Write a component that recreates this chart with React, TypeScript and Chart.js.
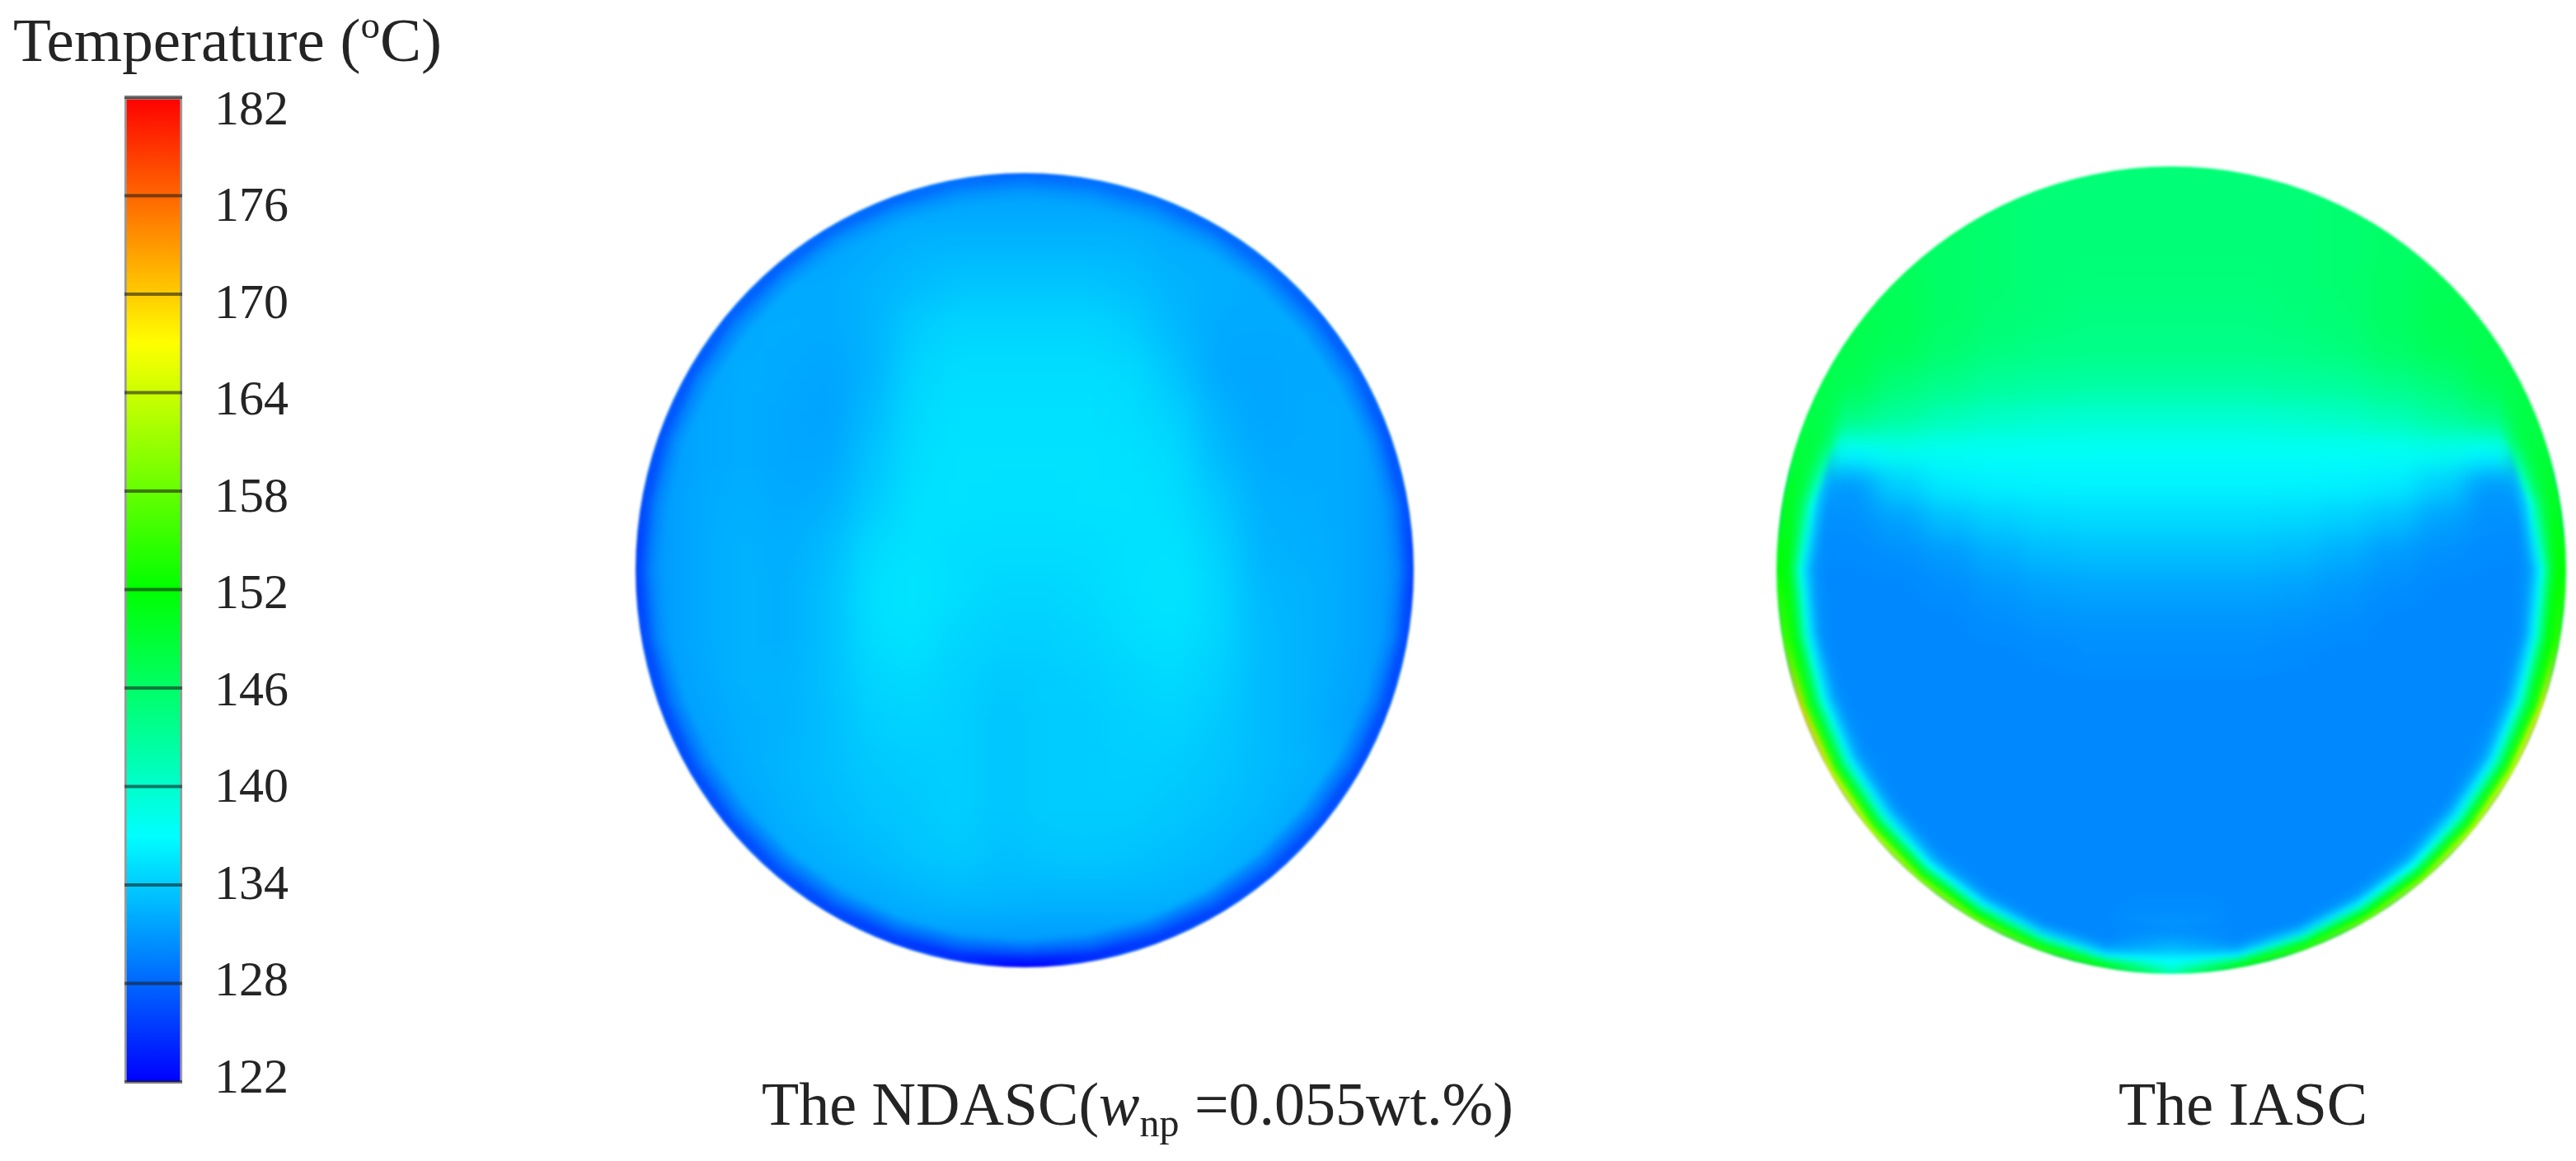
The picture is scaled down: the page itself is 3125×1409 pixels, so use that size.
import React, { useEffect, useRef } from "react";
import { Chart, registerables } from "chart.js";

Chart.register(...registerables);

// ---------- data ----------
const tickValues = [122, 128, 134, 140, 146, 152, 158, 164, 170, 176, 182];
const scaleStopValues = [122, 137, 152, 167, 182];
const scaleStopColors = [[0, 0, 255], [0, 255, 255], [0, 255, 0], [255, 255, 0], [255, 0, 0]];

// NDASC disk, interior temperatures, top row first, left to right
const ndascGrid = [
  [131,131,131,131,131,131,131.3,131.5,131.5,131.5,131.5,131.3,131,131,131,131,131,131],
  [131,131,131,131,131.5,132,132.5,132.5,132.5,132.5,132.5,132.5,132,132,131.5,131,131,131],
  [131,131,131.5,132,132,132.5,133,133.5,133.5,133.5,133.5,133.2,132.6,132.3,132,131.8,131,131],
  [131,131,132,132.2,132,132.5,134,134.5,134.5,134.5,134.5,134,132.8,132,132,132,131.5,131],
  [131,131.5,132.2,132,131.7,132.5,134.5,135,135,135,135,134.8,133.5,131.9,131.7,132,131.8,131],
  [131,131.8,132.2,131.8,131.5,133,134.8,135.2,135.2,135.2,135.2,135,134.3,132.5,131.7,132,132,131],
  [131,131.8,132.2,131.8,131.8,133.5,135,135.3,135.3,135.3,135.3,135.2,134.8,133,132,132,132,131],
  [131,132,132.3,132,132.3,134,135.2,135.3,135.2,135.2,135.3,135.3,135,133.8,132.3,132.2,132,131],
  [131,132,132.5,132.2,133,134.8,135.3,135,135,135,135,135.2,135.3,134.3,132.5,132.3,132,131],
  [131,132,132.5,132.3,133.3,135.2,135.5,135,134.6,134.6,134.8,135.2,135.5,134.6,132.8,132.5,132,131],
  [131,132,132.5,132.3,133.3,135,135.3,134.6,134.3,134.3,134.5,135,135.2,134.5,133,132.5,132,131],
  [131,131.8,132.5,132.5,133.3,134.6,134.8,134.3,133.8,134,134.2,134.6,134.8,134.2,133,132.5,131.8,131],
  [131,131.5,132.3,132.5,133.2,134.2,134.4,134.2,133.6,134,134,134.3,134.4,133.8,133,132.5,131.6,131],
  [131,131,132.2,132.7,133.2,133.8,134,134.2,133.6,134,134,134.2,134,133.6,133,132.6,131.8,131],
  [131,131,131.5,132.5,133,133.5,133.8,134.2,133.6,134,134,134,133.7,133.3,132.8,132,131,131],
  [131,131,131,132,132.5,133,133.5,133.8,133.3,133.6,133.7,133.5,133.2,132.8,132.2,131.5,131,131],
  [131,131,131,131,131.5,132,132.5,132.8,132.7,132.6,132.6,132.6,132.5,132,131.5,131,131,131],
  [130.5,130.5,131,131,131,131,131,131,131,131,131,131,131,131,131,130.5,130.5,130.5],
];

// NDASC rim, one list per ring (outer first), every 10 degrees clockwise from the top
const ndascRimRadii = [0.995, 0.98, 0.965, 0.95];
const ndascRim = [
  [128,128,128,127.5,127.5,127,127,126.5,126,125.5,125.5,125.5,125.5,125.5,125.5,125,124.5,123.5,122,123.5,124.5,125,125.5,125.5,125.5,125.5,125.5,125.5,125.5,126,126.5,127,127,127.5,127.5,128],
  [129,129,129,128.5,128.5,128,128,127.5,127.5,127,127,127,127,127,127,126.5,126,125,123.5,125,126,126.5,127,127,127,127,127,127,127,127.5,127.5,128,128,128.5,128.5,129],
  [130,130,130,130,129.5,129.5,129.5,129,129,128.8,128.8,128.5,128.5,128.5,128.5,128,127.5,127,126,127,127.5,128,128.5,128.5,128.5,128.5,128.8,128.8,129,129,129.5,129.5,129.5,130,130,130],
  [131,131,131,131,130.8,130.5,130.5,130.5,130.3,130.3,130.3,130,130,130,130,129.8,129.5,129,128.5,129,129.5,129.8,130,130,130,130,130.3,130.3,130.3,130.5,130.5,130.5,130.8,131,131,131],
];

// IASC disk, interior temperatures, top row first, left to right
const iascGrid = [
  [146,146,146,146,145.5,145,145,145,145,145,145,145.5,146,146,146,146],
  [146,146,146,146,145.5,145,145,145,145,145,145,145.5,146,146,146,146],
  [147,147,146.5,146,145.5,145,145,145,145,145,145,145.5,146,146.5,147,147],
  [147,147,146.8,146,145.5,145,144.8,144.8,144.8,144.8,145,145.5,146.2,147,147,147],
  [147.5,147.5,147,146,145.3,144.8,144.5,144.5,144.5,144.5,144.8,145.3,146.3,147.2,147.5,147.5],
  [148,147.5,146.7,145.5,144.6,144.2,144,144,144,144,144.2,144.7,145.8,146.8,147.5,148],
  [148,147,145,144,143,142.7,142.5,142.5,142.5,142.5,142.7,143,144,145,147,148],
  [148,144.5,142.8,141.3,140.5,140,139.7,139.7,139.7,139.7,140,140.5,141.3,142.8,144.5,148],
  [147,137,137.8,137.6,137.5,137.5,137.5,137.5,137.5,137.5,137.5,137.5,137.6,137.8,137,147],
  [132,131,134.2,135.8,136.2,136.3,136.3,136.3,136.3,136.3,136.3,136.2,135.8,134.2,131,132],
  [130.5,130.5,131.5,133.3,134.2,134.7,134.8,134.8,134.8,134.8,134.7,134.2,133.3,131.5,130.5,130.5],
  [130,130.2,130.5,131.2,132.3,133,133.3,133.3,133.3,133.3,133,132.3,131.2,130.5,130.2,130],
  [130,130,130,130.4,131,131.6,131.8,131.8,131.8,131.8,131.6,131,130.4,130,130,130],
  [130,130,130,130,130.4,130.7,130.8,130.8,130.8,130.8,130.7,130.4,130,130,130,130],
  [130,130,130,130,130,130.2,130.4,130.4,130.4,130.4,130.2,130,130,130,130,130],
  [130,130,130,130,130,130,130,130,130,130,130,130,130,130,130,130],
  [130,130,130,130,130,130,130,130,130,130,130,130,130,130,130,130],
  [130,130,130,130,130,130,130,130,130,130,130,130,130,130,130,130],
  [130,130,130,130,130,130,130,130,130,130,130,130,130,130,130,130],
  [130,130,130,130,130,130,130,130,130,130,130,130,130,130,130,130],
  [130,130,130,130,130,130,130,130,130,130,130,130,130,130,130,130],
  [130,130,130,130,130,130,130,130,130,130,130,130,130,130,130,130],
  [130,130,130,130,130,130,130,130.5,130.5,130,130,130,130,130,130,130],
  [130,130,130,130,130,130,131,133,133,131,130,130,130,130,130,130],
];

// IASC rim, one list per ring (outer first), every 10 degrees clockwise from the top
const iascRimRadii = [0.995, 0.98, 0.965, 0.95, 0.935, 0.92, 0.905, 0.89];
const n = null;
const iascRim = [
  [n,n,n,n,n,n,n,148,150,151,155,168,166,165,162,160,155,152,142,152,155,160,162,165,168,170,156,151,150,148,n,n,n,n,n,n],
  [n,n,n,n,n,n,n,148,150,152,153,154,155,154,153,152,150,146,139,146,150,152,153,154,155,156,154,152,150,148,n,n,n,n,n,n],
  [n,n,n,n,n,n,n,148,149,150,151,150,149,148,146,144,141,136,137,136,141,144,146,148,149,150,151,150,149,148,n,n,n,n,n,n],
  [n,n,n,n,n,n,n,148,147,145,146,145,142,140,137,136,134,132,135,132,134,136,137,140,142,145,146,145,147,148,n,n,n,n,n,n],
  [n,n,n,n,n,n,n,147,143,138,139,138,136,135,133,132,131,130.5,133,130.5,131,132,133,135,136,138,139,138,143,147,n,n,n,n,n,n],
  [n,n,n,n,n,n,n,145,138,134,134.5,134,132.5,132,131,130.5,130,130,132,130,130,130.5,131,132,132.5,134,134.5,134,138,145,n,n,n,n,n,n],
  [n,n,n,n,n,n,n,n,133,131.5,131.5,131.5,131,130.5,130.3,130,130,130,131,130,130,130,130.3,130.5,131,131.5,131.5,131.5,133,n,n,n,n,n,n,n],
  [n,n,n,n,n,n,n,n,n,130.5,130.3,130.3,130.3,130,130,130,130,130,130.5,130,130,130,130,130,130.3,130.3,130.3,130.5,n,n,n,n,n,n,n,n],
];

// ---------- layout of the figure ----------
const W = 3125;
const H = 1409;
const AREA = { left: 140, right: W, top: 118, bottom: 1313 };
const BAR_CENTER = 186;
const LABEL_LEFT = 260;
const DISK_A = { cx: 1243, cy: 692, rx: 472, ry: 482 };
const DISK_B = { cx: 2634, cy: 692, rx: 479, ry: 490 };
const FONT = '"Liberation Serif", "Times New Roman", serif';
const INK = "#242424";

function rgbFor(t: number): number[] {
  const v = Math.min(182, Math.max(122, t));
  for (let i = 0; i < scaleStopValues.length - 1; i++) {
    if (v <= scaleStopValues[i + 1]) {
      const f = (v - scaleStopValues[i]) / (scaleStopValues[i + 1] - scaleStopValues[i]);
      const a = scaleStopColors[i];
      const b = scaleStopColors[i + 1];
      return a.map((c, k) => Math.round(c + (b[k] - c) * f));
    }
  }
  return scaleStopColors[scaleStopColors.length - 1];
}
const css = (rgb: number[], alpha = 1) => `rgba(${rgb[0]},${rgb[1]},${rgb[2]},${alpha})`;

function diskScales(d: any, xId: string, yId: string) {
  const xMin = -1 - (d.cx - d.rx - AREA.left) / d.rx;
  const xMax = xMin + (AREA.right - AREA.left) / d.rx;
  const yMin = (d.cy - AREA.bottom) / d.ry;
  const yMax = (d.cy - AREA.top) / d.ry;
  return {
    [xId]: { type: "linear", axis: "x", display: false, min: xMin, max: xMax },
    [yId]: { type: "linear", axis: "y", display: false, min: yMin, max: yMax },
  };
}

function cellDataset(grid: number[][], d: any, xId: string, yId: string, order: number, blur: number) {
  const rows = grid.length;
  const cols = grid[0].length;
  const points: any[] = [];
  const colors: string[] = [];
  grid.forEach((row, i) =>
    row.forEach((v, j) => {
      points.push({ x: -1 + (2 * j + 1) / cols, y: 1 - (2 * i + 1) / rows });
      colors.push(css(rgbFor(v)));
    })
  );
  return {
    type: "scatter",
    data: points,
    xAxisID: xId,
    yAxisID: yId,
    order,
    clip: false,
    pointStyle: "line",
    pointRadius: d.rx / cols + 1,
    pointBorderWidth: (2 * d.ry) / rows + 2,
    pointBorderColor: colors,
    fx: { disk: d, blur },
  };
}

function ringDataset(
  canvas: HTMLCanvasElement,
  temps: (number | null)[],
  radius: number,
  xId: string,
  yId: string,
  order: number,
  width: number,
  fx: any
) {
  const count = temps.length;
  const points: any[] = [];
  for (let k = 0; k <= count; k++) {
    const a = (k * 2 * Math.PI) / count;
    points.push({ x: radius * Math.sin(a), y: radius * Math.cos(a) });
  }
  return {
    type: "scatter",
    showLine: true,
    data: points,
    xAxisID: xId,
    yAxisID: yId,
    order,
    clip: false,
    pointRadius: 0,
    borderWidth: width,
    borderColor: "rgba(0,0,0,0)",
    borderCapStyle: "round",
    segment: {
      borderColor: (c: any) => {
        const i0 = c.p0DataIndex;
        const i1 = c.p1DataIndex;
        const t0 = temps[i0 % count];
        const t1 = temps[i1 % count];
        if (t0 == null && t1 == null) return "rgba(0,0,0,0)";
        const rgb0 = rgbFor((t0 ?? t1) as number);
        const rgb1 = rgbFor((t1 ?? t0) as number);
        const chart: any = Chart.getChart(canvas);
        const sx = chart && chart.scales[xId];
        const sy = chart && chart.scales[yId];
        if (!sx || !sy) return css(rgb0);
        const x0 = sx.getPixelForValue(points[i0].x);
        const y0 = sy.getPixelForValue(points[i0].y);
        const x1 = sx.getPixelForValue(points[i1].x);
        const y1 = sy.getPixelForValue(points[i1].y);
        if (![x0, y0, x1, y1].every(Number.isFinite)) return css(rgb0);
        const grad = canvas.getContext("2d")!.createLinearGradient(x0, y0, x1, y1);
        grad.addColorStop(0, css(rgb0, t0 == null ? 0 : 1));
        grad.addColorStop(1, css(rgb1, t1 == null ? 0 : 1));
        return grad;
      },
    },
    fx,
  };
}

function blurRegion(chart: any, x: number, y: number, w: number, h: number, px: number) {
  const ctx = chart.ctx;
  ctx.save();
  ctx.beginPath();
  ctx.rect(x, y, w, h);
  ctx.clip();
  ctx.filter = `blur(${px}px)`;
  ctx.drawImage(chart.canvas, x, y, w, h, x, y, w, h);
  ctx.restore();
}

const diskEffects = {
  id: "diskEffects",
  afterDatasetDraw(chart: any, args: any) {
    const fx = chart.data.datasets[args.index].fx;
    if (!fx) return;
    const d = fx.disk;
    const bx = d.cx - d.rx;
    const by = d.cy - d.ry;
    const bw = 2 * d.rx;
    const bh = 2 * d.ry;
    blurRegion(chart, bx, by, bw, bh, fx.blur);
    if (fx.mask) {
      const m = 12;
      const ctx = chart.ctx;
      ctx.save();
      ctx.fillStyle = "#ffffff";
      ctx.beginPath();
      ctx.rect(bx - m, by - m, bw + 2 * m, bh + 2 * m);
      ctx.ellipse(d.cx, d.cy, d.rx, d.ry, 0, 0, Math.PI * 2);
      ctx.fill("evenodd");
      ctx.restore();
      blurRegion(chart, bx - m + 4, by - m + 4, bw + 2 * m - 8, bh + 2 * m - 8, 1.6);
    }
  },
};

function pieces(ctx: CanvasRenderingContext2D, x: number, y: number, parts: any[]) {
  let cx = x;
  parts.forEach((p) => {
    ctx.font = `${p.italic ? "italic " : ""}${p.size}px ${FONT}`;
    ctx.fillText(p.text, cx, y + (p.dy || 0));
    cx += ctx.measureText(p.text).width;
  });
}

const figureText = {
  id: "figureText",
  afterDraw(chart: any) {
    const ctx = chart.ctx;
    ctx.save();
    ctx.fillStyle = INK;
    ctx.textAlign = "left";
    ctx.textBaseline = "alphabetic";
    pieces(ctx, 16, 74, [
      { text: "Temperature (", size: 75 },
      { text: "o", size: 47, dy: -28 },
      { text: "C)", size: 75 },
    ]);
    pieces(ctx, 924, 1365, [
      { text: "The NDASC(", size: 74 },
      { text: "w", size: 74, italic: true },
      { text: "np", size: 48, dy: 14 },
      { text: " =0.055wt.%)", size: 74 },
    ]);
    pieces(ctx, 2570, 1365, [{ text: "The IASC", size: 74 }]);
    ctx.restore();
  },
};

export default function App() {
  const ref = useRef<HTMLCanvasElement | null>(null);

  useEffect(() => {
    const canvas = ref.current!;
    let order = 1000;
    const datasets: any[] = [];

    datasets.push(cellDataset(ndascGrid, DISK_A, "xA", "yA", order--, 20));
    ndascRim.forEach((temps, i) => {
      const last = i === ndascRim.length - 1;
      datasets.push(
        ringDataset(canvas, temps, ndascRimRadii[i], "xA", "yA", order--, 10,
          last ? { disk: DISK_A, blur: 4, mask: true } : null)
      );
    });

    datasets.push(cellDataset(iascGrid, DISK_B, "xB", "yB", order--, 15));
    iascRim.forEach((temps, i) => {
      const last = i === iascRim.length - 1;
      datasets.push(
        ringDataset(canvas, temps, iascRimRadii[i], "xB", "yB", order--, 10,
          last ? { disk: DISK_B, blur: 3, mask: true } : null)
      );
    });

    datasets.push({
      type: "bar",
      data: [{ x: 0, y: [tickValues[0], tickValues[tickValues.length - 1]] }],
      xAxisID: "xBar",
      yAxisID: "temp",
      order: order--,
      grouped: false,
      barThickness: 70,
      borderWidth: 3,
      borderColor: "rgba(30,30,30,0.45)",
      backgroundColor: (c: any) => {
        const s = c.chart.scales.temp;
        const lo = scaleStopValues[0];
        const hi = scaleStopValues[scaleStopValues.length - 1];
        const yLo = s ? s.getPixelForValue(lo) : NaN;
        const yHi = s ? s.getPixelForValue(hi) : NaN;
        if (!Number.isFinite(yLo) || !Number.isFinite(yHi)) return "#0000ff";
        const g = c.chart.ctx.createLinearGradient(0, yLo, 0, yHi);
        scaleStopValues.forEach((v, i) => g.addColorStop((v - lo) / (hi - lo), css(scaleStopColors[i])));
        return g;
      },
    });
    datasets.push({
      type: "scatter",
      data: tickValues.map((v) => ({ x: 0, y: v })),
      xAxisID: "xBar",
      yAxisID: "temp",
      order: order--,
      clip: false,
      pointStyle: "line",
      pointRadius: 35,
      pointBorderWidth: 4,
      pointBorderColor: "rgba(30,30,30,0.6)",
    });

    const chart = new Chart(canvas, {
      type: "scatter",
      data: { datasets },
      plugins: [diskEffects, figureText],
      options: {
        animation: false,
        responsive: false,
        devicePixelRatio: 1,
        events: [],
        layout: {
          autoPadding: false,
          padding: { left: 0, right: 0, top: AREA.top, bottom: H - AREA.bottom },
        },
        plugins: { legend: { display: false }, tooltip: { enabled: false } },
        scales: {
          ...diskScales(DISK_A, "xA", "yA"),
          ...diskScales(DISK_B, "xB", "yB"),
          xBar: {
            type: "linear",
            axis: "x",
            display: false,
            offset: false,
            min: AREA.left - BAR_CENTER,
            max: AREA.left - BAR_CENTER + (AREA.right - AREA.left),
          },
          temp: { type: "linear", axis: "y", display: false, min: 122, max: 182 },
          // the printed labels sit slightly closer together than the bar's tick marks
          tempLabels: {
            type: "linear",
            axis: "y",
            position: "left",
            min: 121.847,
            max: 182.868,
            grid: { display: false, drawTicks: false },
            border: { display: false },
            afterFit: (s: any) => {
              s.width = AREA.left;
              s.paddingTop = 0;
              s.paddingBottom = 0;
              s.paddingLeft = 0;
              s.paddingRight = 0;
            },
            afterBuildTicks: (s: any) => {
              s.ticks = tickValues.map((v) => ({ value: v }));
            },
            ticks: {
              autoSkip: false,
              mirror: true,
              padding: LABEL_LEFT - AREA.left,
              color: INK,
              font: { family: FONT, size: 60 },
              callback: (v: any) => String(v),
            },
          },
        },
      } as any,
    } as any);

    return () => chart.destroy();
  }, []);

  return (
    <canvas
      ref={ref}
      width={W}
      height={H}
      style={{ position: "absolute", left: 0, top: 0, width: W, height: H, display: "block", background: "#ffffff" }}
    />
  );
}
